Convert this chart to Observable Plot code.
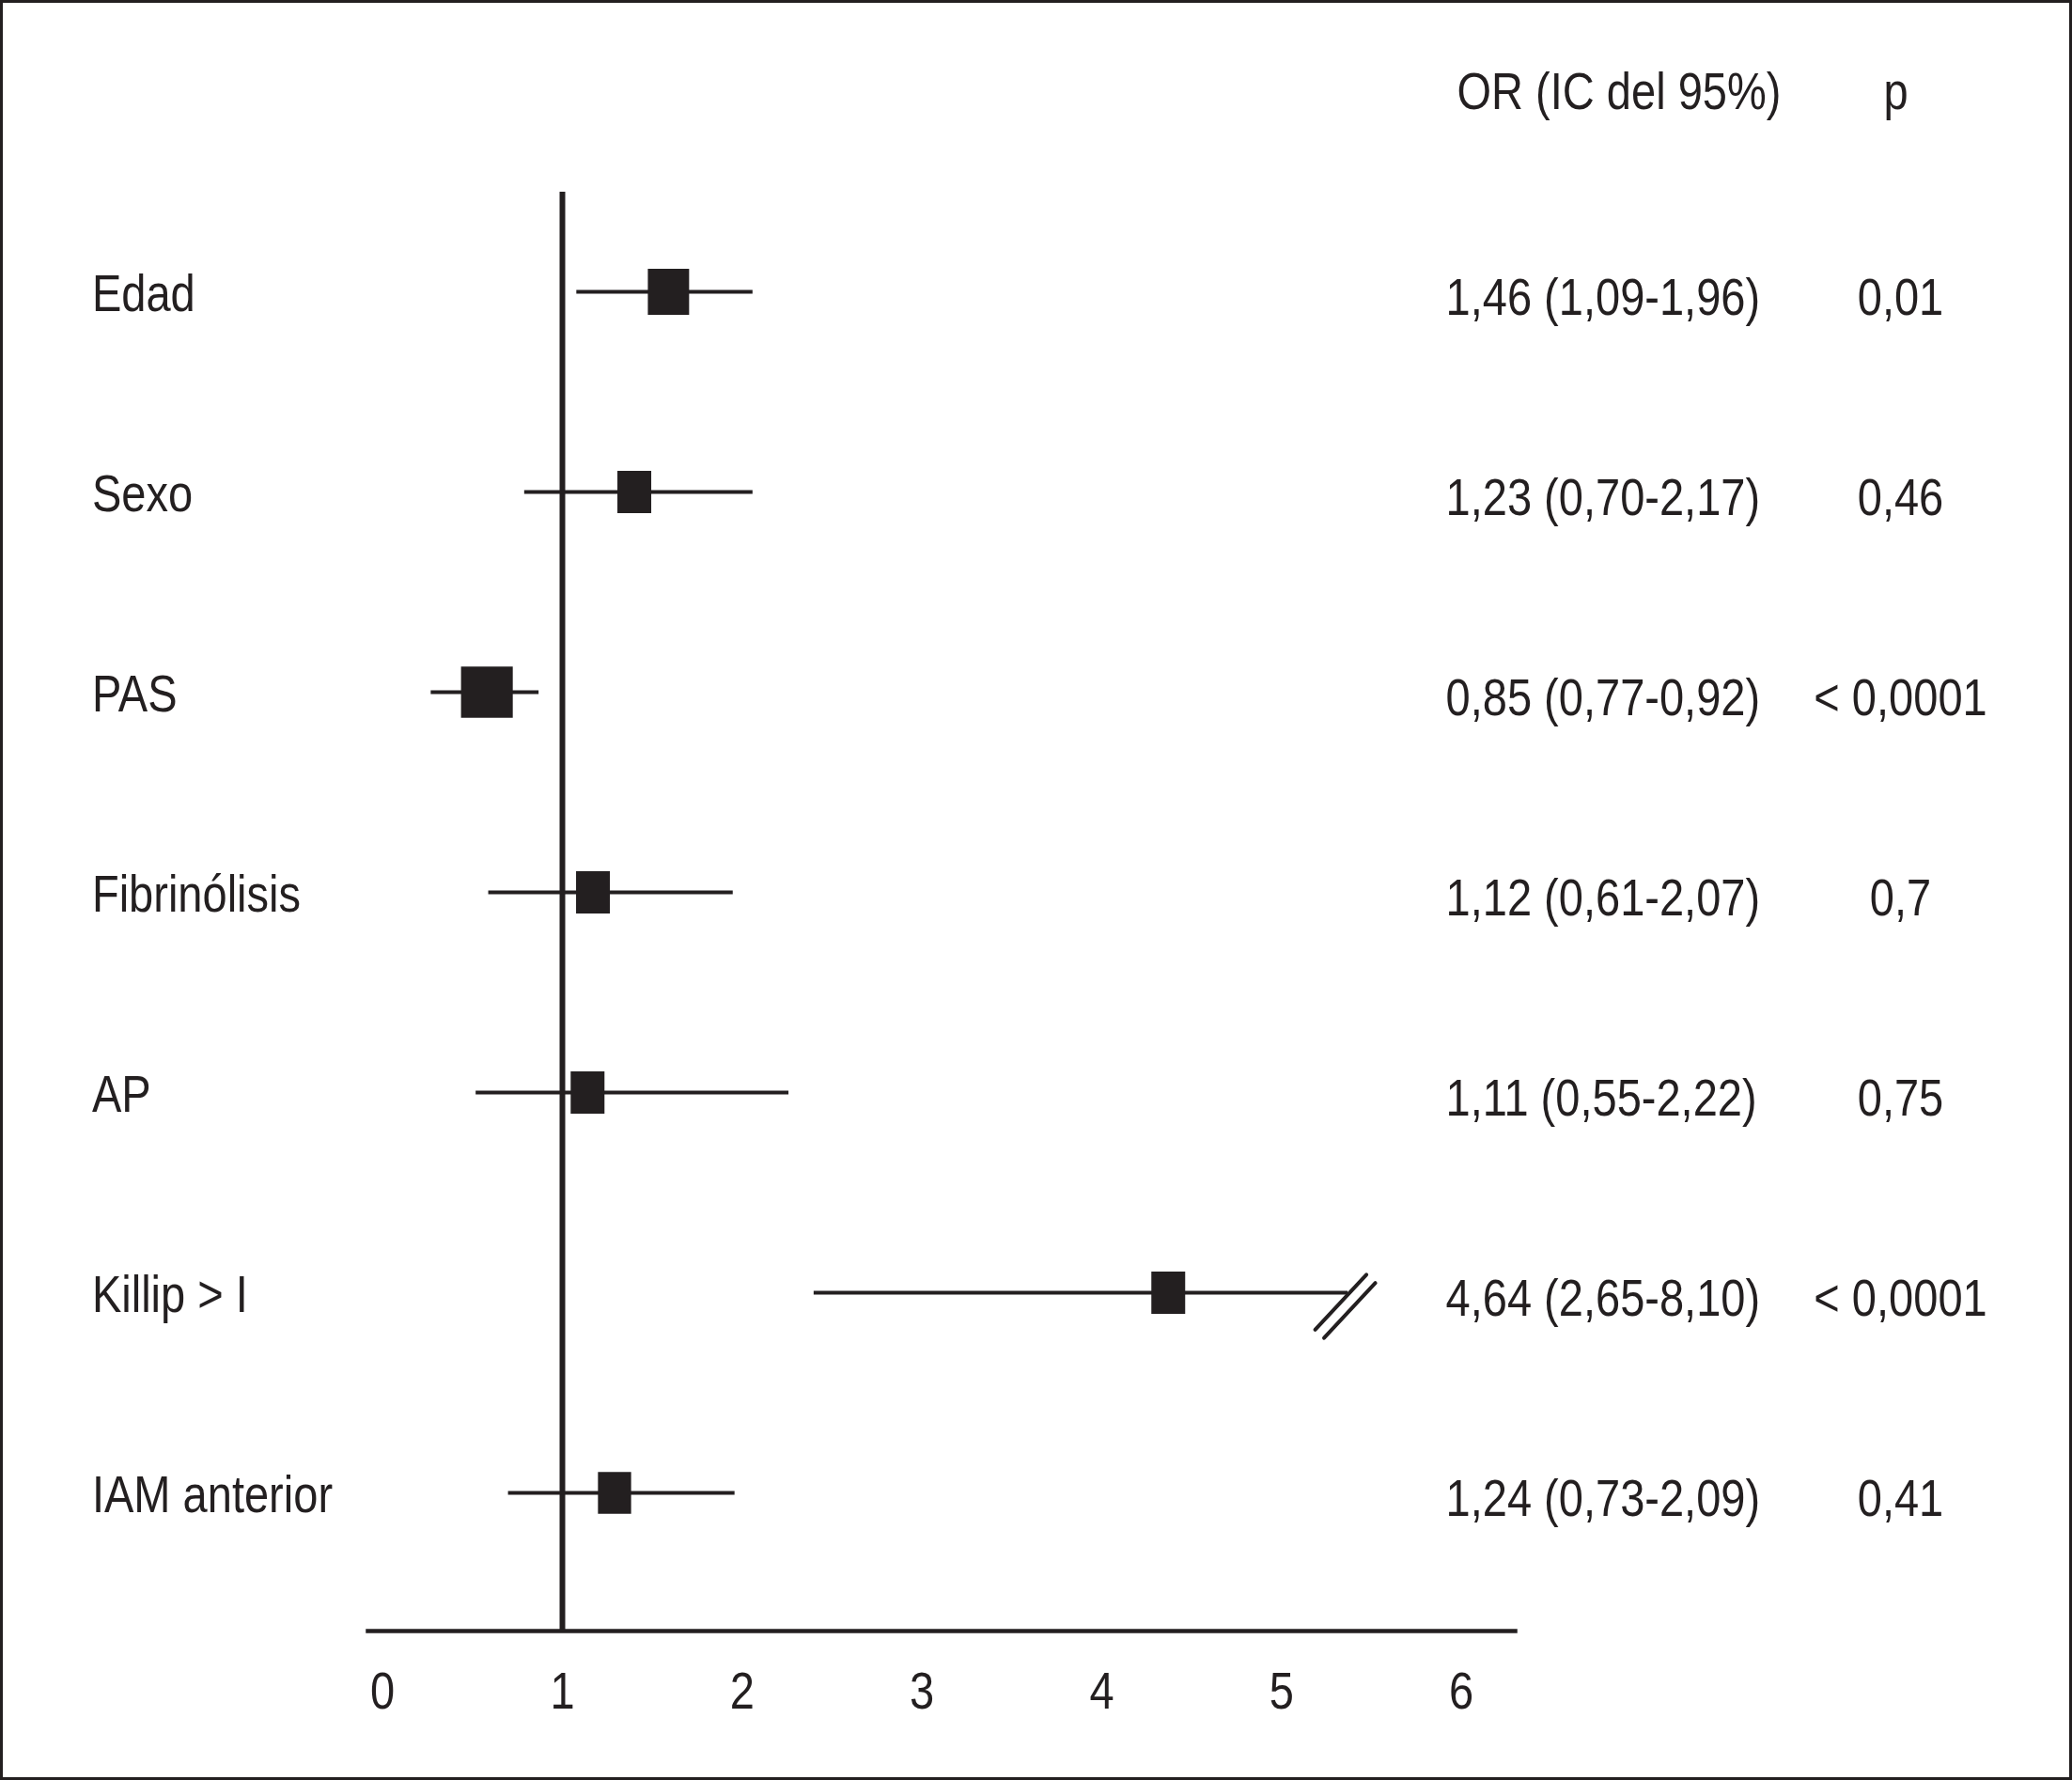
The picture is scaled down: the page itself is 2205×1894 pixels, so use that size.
<!DOCTYPE html>
<html>
<head>
<meta charset="utf-8">
<script src="https://cdn.jsdelivr.net/npm/d3@7"></script>
<script src="https://cdn.jsdelivr.net/npm/@observablehq/plot@0.6"></script>
<style>
html, body { margin: 0; padding: 0; background: #fff; }
#wrap { position: relative; width: 2205px; height: 1894px; }
#border { position: absolute; left: 0; top: 0; width: 2205px; height: 1894px; box-sizing: border-box; border: 3px solid #231f20; pointer-events: none; }
</style>
</head>
<body>
<div id="wrap"><div id="chart"></div><div id="border"></div></div>
<script>
// ---- data ----
const labels = ["Edad", "Sexo", "PAS", "Fibrinólisis", "AP", "Killip > I", "IAM anterior"];
const orPlotted = [1.59, 1.40, 0.58, 1.17, 1.14, 4.37, 1.29];
const ciLow = [1.08, 0.79, 0.27, 0.59, 0.52, 2.40, 0.70];
const ciHigh = [2.06, 2.06, 0.87, 1.95, 2.26, 5.37, 1.96];
const truncated = [false, false, false, false, false, true, false];
const weight = [1.22, 1.0, 1.53, 1.0, 1.0, 1.0, 0.98];
const orText = ["1,46 (1,09-1,96)", "1,23 (0,70-2,17)", "0,85 (0,77-0,92)", "1,12 (0,61-2,07)", "1,11 (0,55-2,22)", "4,64 (2,65-8,10)", "1,24 (0,73-2,09)"];
const pText = ["0,01", "0,46", "< 0,0001", "0,7", "0,75", "< 0,0001", "0,41"];
const xTicks = [0, 1, 2, 3, 4, 5, 6];
const headerOR = "OR (IC del 95%)";
const headerP = "p";

const rows = labels.map((label, i) => ({
  label, or: orPlotted[i], lo: ciLow[i], hi: ciHigh[i],
  truncated: truncated[i], weight: weight[i], orText: orText[i], pText: pText[i]
}));

const INK = "#231f20";

// box symbol: slightly taller than wide
const boxSymbol = {
  draw(context, size) {
    const r = Math.sqrt(size / Math.PI);
    const w = 2 * r, h = r + 27;
    context.rect(-w / 2, -h / 2, w, h);
  }
};
// axis-break marker: two parallel strokes
const breakShape = {
  draw(context, l) {
    context.moveTo(-6.5, 0); context.lineTo(-6.5, -l);
    context.moveTo(6.5, 0); context.lineTo(6.5, -l);
  }
};

const chart = Plot.plot({
  width: 2205,
  height: 1894,
  marginLeft: 391,
  marginRight: 593,
  marginTop: 204,
  marginBottom: 159,
  style: { fontFamily: "'Liberation Sans', Arial, sans-serif", fontSize: "56px", color: INK, background: "white" },
  x: { domain: [-0.082, 6.30] },
  y: { type: "point", domain: labels, padding: 0.582, align: 0.418, axis: null },
  r: { type: "linear", domain: [0, 1], range: [0, 18] },
  marks: [
    Plot.frame({ anchor: "bottom", stroke: INK, strokeWidth: 4.5 }),
    Plot.axisX({ ticks: xTicks, tickSize: 0, tickPadding: 43, label: null, tickFormat: d => String(d) }),
    Plot.ruleX([1], { stroke: INK, strokeWidth: 6 }),
    Plot.ruleY(rows, { y: "label", x1: "lo", x2: "hi", stroke: INK, strokeWidth: 4 }),
    Plot.dot(rows, { x: "or", y: "label", r: "weight", symbol: boxSymbol, fill: INK, stroke: null }),
    Plot.vector(rows.filter(d => d.truncated), { x: "hi", y: "label", rotate: 43, length: 80, anchor: "middle", shape: breakShape, stroke: INK, strokeWidth: 4, dx: -3, dy: 14.5 }),
    Plot.text(rows, { y: "label", text: "label", frameAnchor: "left", textAnchor: "start", dx: -293.6, dy: 3, fill: INK }),
    Plot.text(rows, { y: "label", text: "orText", frameAnchor: "right", textAnchor: "start", dx: -74, dy: 7, fill: INK }),
    Plot.text(rows, { y: "label", text: "pText", frameAnchor: "right", textAnchor: "middle", dx: 410, dy: 7, fill: INK }),
    Plot.text([headerOR], { text: d => d, frameAnchor: "top-right", lineAnchor: "middle", textAnchor: "start", dx: -62, dy: -106, fill: INK }),
    Plot.text([headerP], { text: d => d, frameAnchor: "top-right", lineAnchor: "middle", textAnchor: "middle", dx: 405, dy: -106, fill: INK })
  ]
});

// condensed lettering, as in the original typeface
chart.querySelectorAll("text").forEach(t => {
  const tr = t.getAttribute("transform") || "";
  t.setAttribute("transform", (tr + " scale(0.84,1)").trim());
});

document.getElementById("chart").appendChild(chart);
</script>
</body>
</html>
